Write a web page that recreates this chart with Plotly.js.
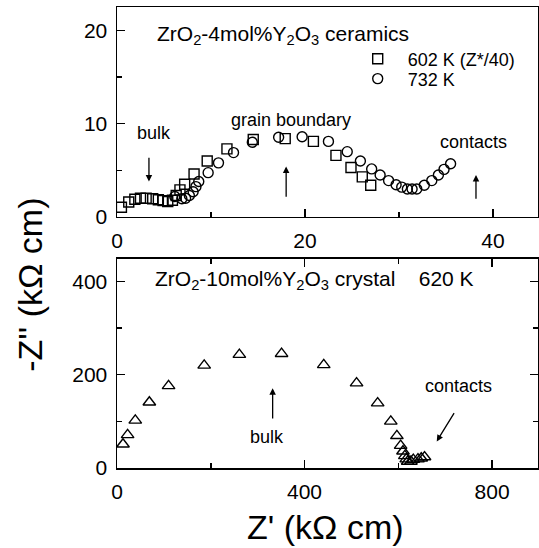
<!DOCTYPE html>
<html><head><meta charset="utf-8">
<script src="https://cdn.plot.ly/plotly-3.0.1.min.js"></script>
<style>html,body{margin:0;padding:0;background:#fff}</style>
</head><body><div id="plot" style="width:539px;height:548px"></div>
<script>
// Top panel: ZrO2-4mol%Y2O3 ceramics
const sq602_x = [0.47,1.25,1.9,2.5,3.1,3.8,4.4,4.9,5.4,5.9,6.3,6.7,7.2,8.2,9.6,11.7,14.5,17.9,20.9,23.3,24.9,26.1,27.0];
const sq602_y = [1.04,1.6,1.9,2.0,2.0,1.95,1.85,1.75,1.65,1.8,2.3,2.9,3.5,4.6,6.0,7.3,8.3,8.4,8.1,6.6,5.3,4.3,3.4];
const ci732_x = [6.15,6.9,7.3,7.7,8.1,8.4,8.7,9.7,10.8,12.4,14.4,17.2,19.7,22.5,24.5,25.9,27.1,28.0,28.9,29.7,30.3,30.9,31.4,31.9,32.7,33.5,34.2,34.8,35.5];
const ci732_y = [2.2,1.95,2.0,2.3,2.7,3.25,3.8,4.75,5.8,6.9,8.0,8.55,8.6,8.1,7.0,6.0,5.15,4.5,3.9,3.45,3.2,3.0,3.0,3.0,3.4,3.9,4.5,5.1,5.7];
// Bottom panel: ZrO2-10mol%Y2O3 crystal, 620 K
const tri620_x = [12.8,22.6,39,69,110,186,261,351,441,511,556,584,597,605,610,614,617,620,627,632,642,649,656];
const tri620_y = [51,71,102,141,176,220,243,245,221,182,139,100,69,48,36,26,19,14,14,18,19,21,23.5];

const series_names = ['602 K (Z*/40)', '732 K'];
const top_ticks = [0,20,40], bot_xticks = [0,400,800], top_yticks=[0,10,20], bot_yticks=[0,200,400];

const FONT = 'Arial, "Liberation Sans", sans-serif';
const mk = (sym, s) => ({symbol: sym, size: s, color: '#000', line: {color: '#000', width: 1.4}});

const traces = [
  {x: sq602_x, y: sq602_y, name: series_names[0], mode: 'markers', type: 'scatter', xaxis: 'x', yaxis: 'y', marker: mk('square-open', 10), legend: 'legend'},
  {x: ci732_x, y: ci732_y, name: series_names[1], mode: 'markers', type: 'scatter', xaxis: 'x', yaxis: 'y', marker: mk('circle-open', 10), legend: 'legend2'},
  {x: tri620_x, y: tri620_y, name: '620 K', mode: 'markers', type: 'scatter', xaxis: 'x2', yaxis: 'y2', marker: mk('triangle-up-open', 11), showlegend: false}
];

const axBase = {
  showgrid: false, zeroline: false, showline: true, linecolor: '#000', linewidth: 1.5,
  ticks: 'inside', ticklen: 8, tickwidth: 1.5, tickcolor: '#000', ticklabelstandoff: 4,
  tickfont: {family: FONT, size: 21, color: '#000'},
  minor: {ticks: 'inside', ticklen: 5, tickwidth: 1.5, tickcolor: '#000'}
};
const legBase = {x: 0.548, xanchor: 'left', yanchor: 'middle', bgcolor: 'rgba(0,0,0,0)', itemwidth: 50,
                 font: {family: FONT, size: 18, color: '#000'}};
const arrowStyle = {showarrow: true, arrowhead: 2, arrowsize: 1, arrowwidth: 1.3, arrowcolor: '#000', text: ''};

const layout = {
  width: 539, height: 548,
  margin: {l: 117, r: 1, t: 7, b: 80},
  paper_bgcolor: '#fff', plot_bgcolor: '#fff',
  font: {family: FONT, color: '#000'},
  showlegend: true,
  legend: Object.assign({}, legBase, {y: 0.887}),
  legend2: Object.assign({}, legBase, {y: 0.844}),
  xaxis: Object.assign({}, axBase, {anchor: 'y', range: [0, 44.8], tickvals: top_ticks, mirror: true,
         minor: Object.assign({}, axBase.minor, {tickvals: [10, 30]})}),
  yaxis: Object.assign({}, axBase, {anchor: 'x', domain: [0.5445, 1], range: [0, 22.5], tickvals: top_yticks, mirror: true,
         minor: Object.assign({}, axBase.minor, {tickvals: [5, 15]})}),
  xaxis2: Object.assign({}, axBase, {anchor: 'y2', range: [0, 898], tickvals: bot_xticks, mirror: 'ticks',
         minor: Object.assign({}, axBase.minor, {tickvals: [200, 600]})}),
  yaxis2: Object.assign({}, axBase, {anchor: 'x2', domain: [0, 0.4534], range: [0, 448], tickvals: bot_yticks, mirror: 'ticks',
         minor: Object.assign({}, axBase.minor, {tickvals: [100, 300]})}),
  annotations: [
    {xref: 'x', yref: 'y', x: 4.0, y: 19.5, xanchor: 'left', yanchor: 'middle', showarrow: false,
     text: 'ZrO<sub>2</sub>-4mol%Y<sub>2</sub>O<sub>3</sub> ceramics', font: {size: 21}},
    {xref: 'x', yref: 'y', x: 3.9, y: 9.0, showarrow: false, text: 'bulk', font: {size: 18}},
    Object.assign({xref: 'x', yref: 'y', x: 3.4, y: 3.8, ax: 3.4, ay: 6.5, axref: 'x', ayref: 'y'}, arrowStyle),
    {xref: 'x', yref: 'y', x: 18.5, y: 10.4, showarrow: false, text: 'grain boundary', font: {size: 18}},
    Object.assign({xref: 'x', yref: 'y', x: 18.0, y: 5.4, ax: 18.0, ay: 2.0, axref: 'x', ayref: 'y'}, arrowStyle),
    {xref: 'x', yref: 'y', x: 37.9, y: 8.05, showarrow: false, text: 'contacts', font: {size: 18}},
    Object.assign({xref: 'x', yref: 'y', x: 38.2, y: 4.5, ax: 38.2, ay: 1.8, axref: 'x', ayref: 'y'}, arrowStyle),
    {xref: 'x2', yref: 'y2', x: 77, y: 403, xanchor: 'left', yanchor: 'middle', showarrow: false,
     text: 'ZrO<sub>2</sub>-10mol%Y<sub>2</sub>O<sub>3</sub> crystal    620 K', font: {size: 21}},
    {xref: 'x2', yref: 'y2', x: 320, y: 67, showarrow: false, text: 'bulk', font: {size: 18}},
    Object.assign({xref: 'x2', yref: 'y2', x: 332, y: 171, ax: 332, ay: 103, axref: 'x2', ayref: 'y2'}, arrowStyle),
    {xref: 'x2', yref: 'y2', x: 729, y: 175, showarrow: false, text: 'contacts', font: {size: 18}},
    Object.assign({xref: 'x2', yref: 'y2', x: 682, y: 57, ax: 721, ay: 121, axref: 'x2', ayref: 'y2'}, arrowStyle),
    {xref: 'paper', yref: 'paper', x: -0.207, y: 0.397, xanchor: 'center', yanchor: 'middle', showarrow: false,
     textangle: -90, text: "-Z'' (kΩ cm)", font: {size: 34}},
    {xref: 'paper', yref: 'paper', x: 0.496, y: -0.128, xanchor: 'center', yanchor: 'middle', showarrow: false,
     text: "Z' (kΩ cm)", font: {size: 34}}
  ]
};

Plotly.newPlot('plot', traces, layout, {displayModeBar: false, staticPlot: true});
</script>
</body></html>
